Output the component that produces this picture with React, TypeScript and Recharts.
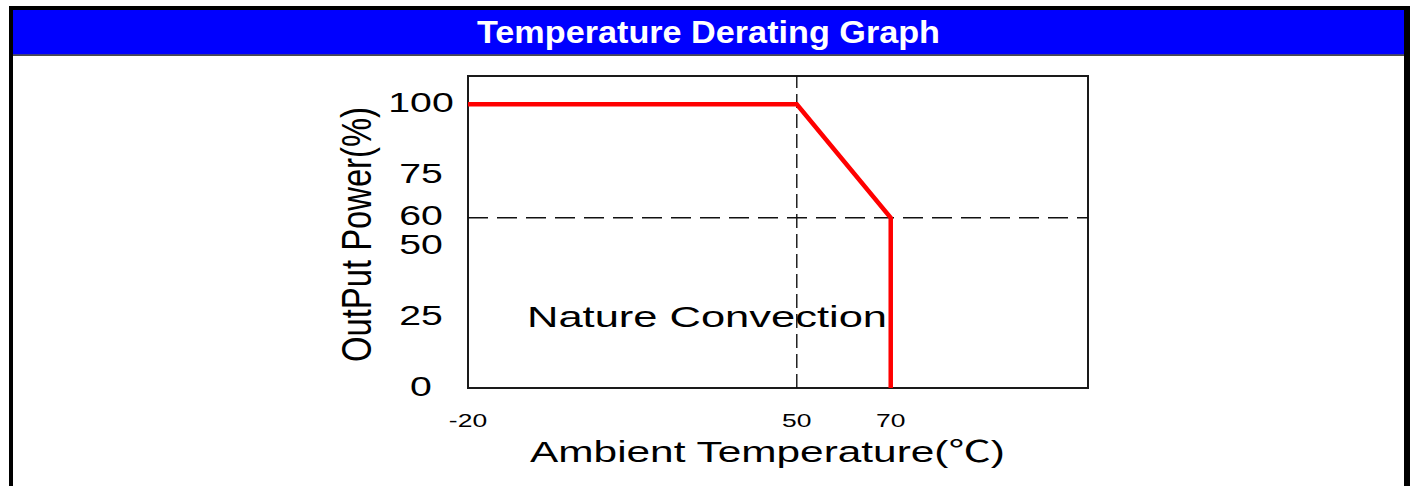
import React from 'react';
import { LineChart, Line, XAxis, YAxis, ReferenceLine, ReferenceArea } from 'recharts';

// ---- data ----
const temperatures = [-20, 50, 70, 70];
const outputPower = [100, 100, 60, 0];
const xTickValues = [-20, 50, 70];
const yTickValues = [0, 25, 50, 60, 75, 100];
const xDomain: [number, number] = [-20, 112];
const yDomain: [number, number] = [0, 110];
const derateStartTemp = 50;
const derateEndPower = 60;

const titleText = 'Temperature Derating Graph';
const xTitleMain = 'Ambient Temperature(';
const xTitleUnit = '\u2103';
const xTitleEnd = ')';
const yTitle = 'OutPut Power(%)';
const noteText = 'Nature Convection';

const data = temperatures.map((t, i) => ({ temp: t, power: outputPower[i] }));

const FONT = '"Liberation Sans", Arial, Helvetica, sans-serif';
const CJK = '"Noto Sans CJK SC", "Noto Sans CJK JP", sans-serif';

const charWidth = (s: string) =>
  s.split('').reduce((acc, c) => acc + (c === '-' ? 0.333 : 0.556), 0);

const YTick = (props: any) => {
  const { x, y, payload } = props;
  const label = String(payload.value);
  return (
    <text
      x={x}
      y={y}
      dy={7.5}
      textAnchor="middle"
      fontFamily={FONT}
      fontSize={28}
      fill="#000"
      textLength={charWidth(label) * 28 * 1.4}
      lengthAdjust="spacingAndGlyphs"
    >
      {label}
    </text>
  );
};

const XTick = (props: any) => {
  const { x, y, payload } = props;
  const label = String(payload.value);
  return (
    <text
      x={x}
      y={y}
      dy={39.3}
      textAnchor="middle"
      fontFamily={FONT}
      fontSize={18}
      fill="#000"
      textLength={charWidth(label) * 18 * 1.47}
      lengthAdjust="spacingAndGlyphs"
    >
      {label}
    </text>
  );
};

export default function App() {
  return (
    <div
      style={{
        position: 'absolute',
        left: 0,
        top: 0,
        width: 1410,
        height: 486,
        background: '#fff',
        overflow: 'hidden',
      }}
    >
      <div style={{ position: 'absolute', left: 0, top: 0 }}>
        <LineChart
          width={1410}
          height={486}
          data={data}
          margin={{ top: 76, right: 322, bottom: 58, left: 408 }}
        >
          <XAxis
            dataKey="temp"
            type="number"
            domain={xDomain}
            ticks={xTickValues}
            allowDataOverflow
            axisLine={false}
            tickLine={false}
            tickSize={0}
            tickMargin={0}
            height={40}
            tick={<XTick />}
            interval={0}
          />
          <YAxis
            type="number"
            domain={yDomain}
            ticks={yTickValues}
            allowDataOverflow
            axisLine={false}
            tickLine={false}
            tickSize={0}
            tickMargin={47}
            width={60}
            tick={<YTick />}
            interval={0}
          />
          <ReferenceArea
            x1={xDomain[0]}
            x2={xDomain[1]}
            y1={yDomain[0]}
            y2={yDomain[1]}
            fill="none"
            fillOpacity={0}
            stroke="#1a1a1a"
            strokeWidth={2}
          />
          <ReferenceLine
            x={derateStartTemp}
            stroke="#111"
            strokeWidth={1.4}
            strokeDasharray="14 6"
          />
          <ReferenceLine
            y={derateEndPower}
            stroke="#111"
            strokeWidth={1.4}
            strokeDasharray="20 9"
          />
          <Line
            type="linear"
            dataKey="power"
            stroke="#ff0000"
            strokeWidth={4.5}
            dot={false}
            activeDot={false}
            isAnimationActive={false}
          />
        </LineChart>
      </div>
      <svg
        width={1410}
        height={486}
        style={{ position: 'absolute', left: 0, top: 0, pointerEvents: 'none' }}
      >
        {/* frame */}
        <rect x={9} y={6} width={1401} height={4} fill="#000" />
        <rect x={9} y={6} width={4} height={480} fill="#000" />
        <rect x={1404} y={6} width={6} height={480} fill="#000" />
        {/* header */}
        <rect x={13} y={10} width={1391} height={44.5} fill="#0000ff" />
        <rect x={13} y={54.5} width={1391} height={1.2} fill="#000" />
        <text
          x={708.5}
          y={43}
          textAnchor="middle"
          fontFamily={FONT}
          fontWeight="bold"
          fontSize={32}
          fill="#fff"
          textLength={463}
          lengthAdjust="spacingAndGlyphs"
        >
          {titleText}
        </text>
        {/* axis titles */}
        <text
          x={767.5}
          y={462}
          textAnchor="middle"
          fontFamily={FONT}
          fontSize={29}
          fill="#000"
          textLength={475}
          lengthAdjust="spacingAndGlyphs"
        >
          {xTitleMain}
          <tspan fontFamily={CJK}>{xTitleUnit}</tspan>
          {xTitleEnd}
        </text>
        <text
          transform="translate(371, 234.5) rotate(-90)"
          x={0}
          y={0}
          textAnchor="middle"
          fontFamily={FONT}
          fontSize={42}
          fill="#000"
          textLength={255}
          lengthAdjust="spacingAndGlyphs"
        >
          {yTitle}
        </text>
        <text
          x={527}
          y={326.7}
          fontFamily={FONT}
          fontSize={30}
          fill="#000"
          textLength={360}
          lengthAdjust="spacingAndGlyphs"
        >
          {noteText}
        </text>
      </svg>
    </div>
  );
}
